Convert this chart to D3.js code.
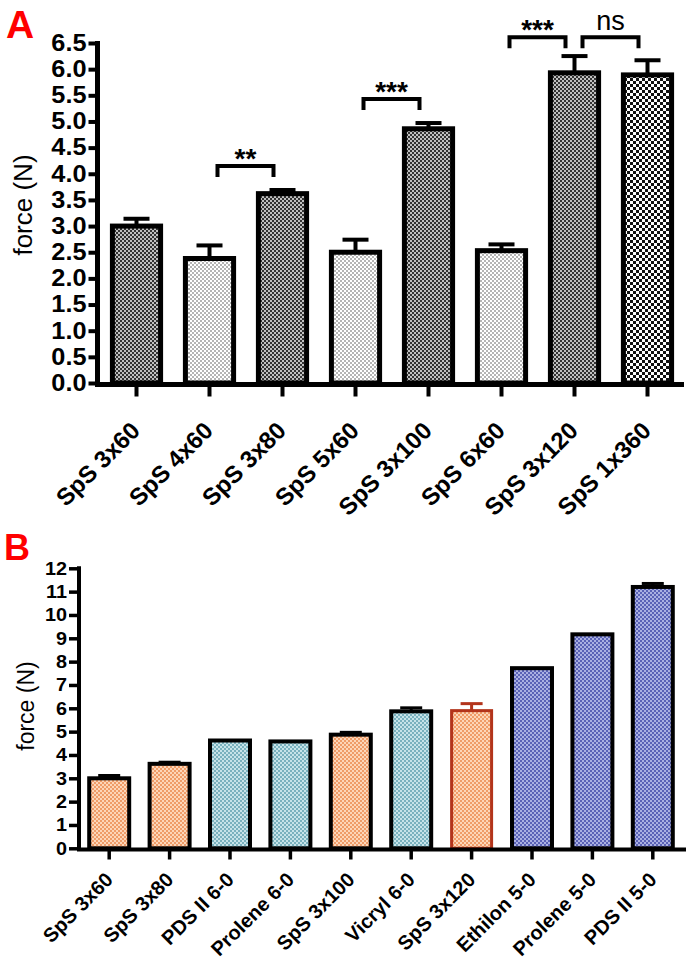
<!DOCTYPE html>
<html><head><meta charset="utf-8">
<script src="https://cdn.jsdelivr.net/npm/d3@7"></script>
<style>body{margin:0;background:#fff}svg{display:block}text{font-family:"Liberation Sans",Arial,sans-serif}</style>
</head><body>
<script>
// ---------- Data ----------
const catsA = ["SpS 3x60","SpS 4x60","SpS 3x80","SpS 5x60","SpS 3x100","SpS 6x60","SpS 3x120","SpS 1x360"];
const valsA = [3.0, 2.38, 3.62, 2.5, 4.86, 2.53, 5.93, 5.89];
const errsA = [0.14, 0.25, 0.07, 0.24, 0.11, 0.12, 0.32, 0.28];
const fillA = ["dark","light","dark","light","dark","light","dark","checker"];
const ticksA = [0,0.5,1,1.5,2,2.5,3,3.5,4,4.5,5,5.5,6,6.5];
const bracketFrom = [1, 3, 5, 6];
const bracketTo = [2, 4, 6, 7];
const bracketLevel = [4.15, 5.43, 6.61, 6.61];
const bracketLabel = ["**","***","***","ns"];

const catsB = ["SpS 3x60","SpS 3x80","PDS II 6-0","Prolene 6-0","SpS 3x100","Vicryl 6-0","SpS 3x120","Ethilon 5-0","Prolene 5-0","PDS II 5-0"];
const valsB = [3.0, 3.62, 4.62, 4.58, 4.87, 5.87, 5.9, 7.72, 9.17, 11.2];
const errsB = [0.12, 0.07, 0, 0, 0.1, 0.15, 0.3, 0, 0, 0.15];
const fillB = ["orange","orange","teal","teal","orange","teal","orange","blue","blue","blue"];
const strokeB = ["black","black","black","black","black","black","red","black","black","black"];
const ticksB = [0,1,2,3,4,5,6,7,8,9,10,11,12];

// ---------- Setup ----------
const W = 693, H = 960;
const svg = d3.select("body").append("svg").attr("width", W).attr("height", H);
const defs = svg.append("defs");
function checkPat(id, bg, fg, c) {
  const p = defs.append("pattern").attr("id", id).attr("patternUnits","userSpaceOnUse")
    .attr("width", 2*c).attr("height", 2*c);
  p.append("rect").attr("width", 2*c).attr("height", 2*c).attr("fill", bg);
  p.append("rect").attr("width", c).attr("height", c).attr("fill", fg);
  p.append("rect").attr("x", c).attr("y", c).attr("width", c).attr("height", c).attr("fill", fg);
}
checkPat("dark", "#c0c0c0", "#333333", 2);
checkPat("light", "#ffffff", "#b4b4b4", 2);
checkPat("checker", "#ffffff", "#111111", 3);
checkPat("orange", "#fdd6b8", "#ef9c68", 2);
checkPat("teal", "#c6e3e9", "#79b1be", 2);
checkPat("blue", "#aab0e2", "#5a62b6", 2);
const strokeColor = {black: "#000", red: "#b3341b"};
const SX = 1.1; // horizontal stretch of tick label glyphs

function stretchTicks(sel, size) {
  sel.selectAll(".tick text").attr("font-size", size).attr("font-weight", "bold").attr("fill", "#000")
    .attr("font-family", '"Liberation Sans",Arial,sans-serif')
    .each(function() {
      const t = d3.select(this);
      const x = +t.attr("x");
      t.attr("x", null).attr("transform", `translate(${x},0) scale(${SX},1)`);
    });
}

// ---------- Panel A ----------
const xA = d3.scaleBand().domain(catsA).range([100, 684]).paddingInner(0.34).paddingOuter(0.17);
const yA = d3.scaleLinear().domain([0, 6.5]).range([383, 43]);
const gA = svg.append("g");

gA.append("text").attr("x", 6).attr("y", 38).attr("fill", "#ff0000")
  .attr("font-size", 39).attr("font-weight", "bold").text("A");

catsA.forEach((c, i) => {
  const x = xA(c), bw = xA.bandwidth();
  const cx = x + bw/2;
  const yv = yA(valsA[i]), ye = yA(valsA[i] + errsA[i]);
  gA.append("line").attr("x1", cx).attr("x2", cx).attr("y1", yv).attr("y2", ye)
    .attr("stroke", "#000").attr("stroke-width", 4);
  gA.append("line").attr("x1", cx - 13).attr("x2", cx + 13).attr("y1", ye).attr("y2", ye)
    .attr("stroke", "#000").attr("stroke-width", 4);
  gA.append("rect").attr("x", x).attr("y", yv).attr("width", bw).attr("height", yA(0) - yv)
    .attr("fill", `url(#${fillA[i]})`).attr("stroke", "#000").attr("stroke-width", 5);
});

const yAxisA = gA.append("g").attr("transform", "translate(97.5,0)")
  .call(d3.axisLeft(yA).tickValues(ticksA).tickFormat(d3.format(".1f")).tickSize(9).tickPadding(2));
yAxisA.select(".domain").attr("d", `M0,${yA(6.5)-2}V${yA(0)+3}`).attr("stroke-width", 5);
yAxisA.selectAll(".tick line").attr("stroke-width", 4);
stretchTicks(yAxisA, 23);

const xAxisA = gA.append("g").attr("transform", "translate(0,384.5)")
  .call(d3.axisBottom(xA).tickSize(12).tickFormat(""));
xAxisA.select(".domain").attr("d", `M95,0H684`).attr("stroke-width", 5);
xAxisA.selectAll(".tick line").attr("stroke-width", 4);
catsA.forEach(c => {
  const cx = xA(c) + xA.bandwidth()/2;
  gA.append("text").attr("transform", `translate(${cx + 5},432) rotate(-45)`)
    .attr("text-anchor", "end").attr("font-size", 24).attr("font-weight", "bold").text(c);
});

gA.append("text").attr("transform", "translate(32,205) rotate(-90)").attr("text-anchor", "middle")
  .attr("font-size", 26).text("force (N)");

bracketFrom.forEach((f, k) => {
  const x1 = xA(catsA[f]) + xA.bandwidth()/2 + 8;
  const x2 = xA(catsA[bracketTo[k]]) + xA.bandwidth()/2 - 9;
  const y = yA(bracketLevel[k]);
  gA.append("path").attr("d", `M${x1},${y + 11}V${y}H${x2}V${y + 11}`)
    .attr("fill", "none").attr("stroke", "#000").attr("stroke-width", 4);
  const ns = bracketLabel[k] === "ns";
  gA.append("text").attr("x", (x1 + x2)/2).attr("y", ns ? y - 7 : y + 2)
    .attr("text-anchor", "middle").attr("font-size", ns ? 27 : 28)
    .attr("font-weight", ns ? "normal" : "bold").text(bracketLabel[k]);
});

// ---------- Panel B ----------
const xB = d3.scaleBand().domain(catsB).range([79, 683]).paddingInner(0.338).paddingOuter(0.169);
const yB = d3.scaleLinear().domain([0, 12]).range([848.3, 568.3]);
const gB = svg.append("g");

gB.append("text").attr("x", 4).attr("y", 560).attr("fill", "#ff0000")
  .attr("font-size", 36).attr("font-weight", "bold").text("B");

catsB.forEach((c, i) => {
  const x = xB(c), bw = xB.bandwidth(), cx = x + bw/2;
  const yv = yB(valsB[i]);
  const sc = strokeColor[strokeB[i]];
  if (errsB[i] > 0) {
    const ye = yB(valsB[i] + errsB[i]);
    gB.append("line").attr("x1", cx).attr("x2", cx).attr("y1", yv).attr("y2", ye)
      .attr("stroke", sc).attr("stroke-width", 3);
    gB.append("line").attr("x1", cx - 11).attr("x2", cx + 11).attr("y1", ye).attr("y2", ye)
      .attr("stroke", sc).attr("stroke-width", 3);
  }
  gB.append("rect").attr("x", x).attr("y", yv).attr("width", bw).attr("height", yB(0) - yv)
    .attr("fill", `url(#${fillB[i]})`).attr("stroke", sc)
    .attr("stroke-width", strokeB[i] === "red" ? 3 : 4);
});

const yAxisB = gB.append("g").attr("transform", "translate(79,0)")
  .call(d3.axisLeft(yB).tickValues(ticksB).tickFormat(d3.format("d")).tickSize(10).tickPadding(2));
yAxisB.select(".domain").attr("d", `M0,${yB(12)-2}V${yB(0)+2}`).attr("stroke-width", 4);
yAxisB.selectAll(".tick line").attr("stroke-width", 3.5);
stretchTicks(yAxisB, 18);

const xAxisB = gB.append("g").attr("transform", "translate(0,849.5)")
  .call(d3.axisBottom(xB).tickSize(10).tickFormat(""));
xAxisB.select(".domain").attr("d", `M77,0H686`).attr("stroke-width", 4);
xAxisB.selectAll(".tick line").attr("stroke-width", 3.5);
catsB.forEach(c => {
  const cx = xB(c) + xB.bandwidth()/2;
  gB.append("text").attr("transform", `translate(${cx + 5},881) rotate(-45)`)
    .attr("text-anchor", "end").attr("font-size", 20).attr("font-weight", "bold").text(c);
});

gB.append("text").attr("transform", "translate(34,706) rotate(-90)").attr("text-anchor", "middle")
  .attr("font-size", 23).text("force (N)");
</script>
</body></html>
